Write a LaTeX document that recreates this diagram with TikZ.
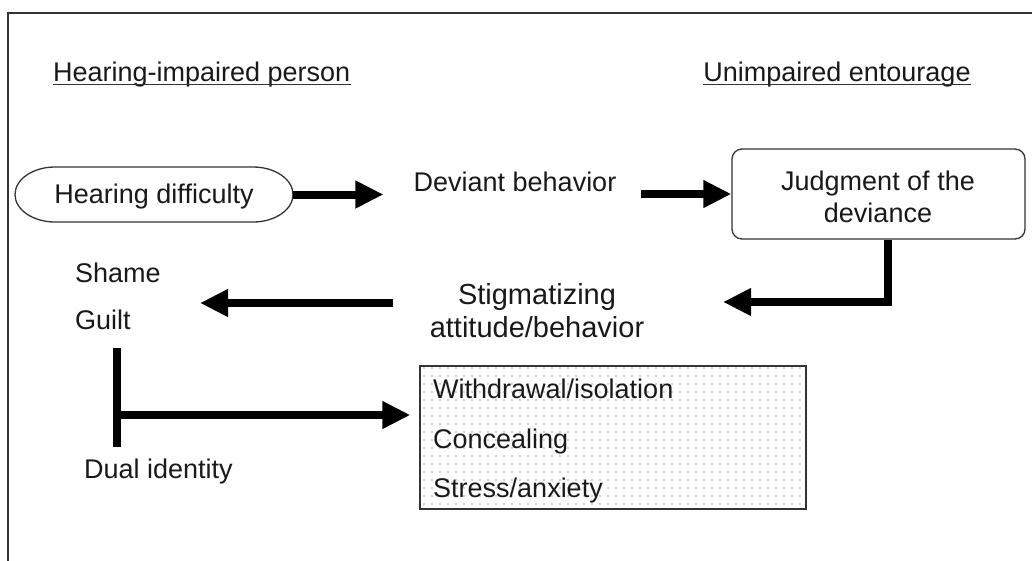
\documentclass[tikz,border=0pt]{standalone}
\usepackage{fontspec}
\setmainfont{Liberation Sans}
\usetikzlibrary{arrows.meta,shapes.geometric,patterns.meta,calc}
\begin{document}
\begin{tikzpicture}[x=1pt,y=-1pt,
  txt/.style={font=\fontsize{27}{32}\selectfont, inner sep=0pt, text=black!90},
  bigtxt/.style={font=\fontsize{29}{34}\selectfont, inner sep=0pt, text=black!90},
  bigarrow/.style={line width=8pt, -{Triangle[length=28pt,width=26pt]}},
  bar/.style={line width=8pt},
  ul/.style={line width=1.3pt, draw=black!80},
  frame/.style={line width=2pt, draw=black!80},
  boxline/.style={draw=black!80, line width=1.3pt}
]
\useasboundingbox (0,0) rectangle (1032,560);
% outer frame (cropped on right and bottom)
\draw[frame] (1045,13) -- (8,13) -- (8,575);

% headings
\node[txt, anchor=base west] (hip) at (53,81) {Hearing-impaired person};
\draw[ul] ($(hip.base west)+(0,3.5)$) -- ($(hip.base east)+(0,3.5)$);
\node[txt, anchor=base] (ue) at (837,81) {Unimpaired entourage};
\draw[ul] ($(ue.base west)+(0,3.5)$) -- ($(ue.base east)+(0,3.5)$);

% top row
\node[minimum width=278pt, minimum height=55pt, inner sep=0pt, outer sep=0pt] (hd) at (154,194.5) {};
\draw[boxline] (55,167) -- (253,167)
  arc[start angle=-90, end angle=90, x radius=40, y radius=27.5]
  -- (55,222)
  arc[start angle=90, end angle=270, x radius=40, y radius=27.5] -- cycle;
\node[txt, anchor=base] (hdt) at (154,203) {Hearing difficulty};
\node[txt, anchor=base] (dev) at (515,191) {Deviant behavior};
\node[boxline, rounded corners=10pt, minimum width=293pt, minimum height=90pt, inner sep=0pt] (jd) at (878.5,194) {};
\node[txt, anchor=base] (jd1) at (878,190) {Judgment of the};
\node[txt, anchor=base] (jd2) at (878,222) {deviance};

\draw[bigarrow, shorten >=30pt] (hd.east) -- (hd.east -| dev.west);
\draw[bigarrow, shorten <=24pt] (dev.east |- jd.west) -- (jd.west);

% middle row
\node[bigtxt, anchor=base] (stig1) at (537,304) {Stigmatizing};
\node[bigtxt, anchor=base] (stig2) at (537,337) {attitude/behavior};
\node[txt, anchor=base west] (shame) at (75,282) {Shame};
\node[txt, anchor=base west] (guilt) at (75,329) {Guilt};
\node[txt, anchor=base west] (dual) at (84,478) {Dual identity};

\coordinate (elb) at (723,302);
\draw[bigarrow] ([xshift=9.5pt]jd.south) |- (elb);
\coordinate (a3s) at (393,303);
\coordinate (a3e) at (200,303);
\draw[bigarrow] (a3s) -- (a3e);

% consequences box
\node[boxline, pattern={Dots[distance=8pt,radius=0.8pt]}, pattern color=black!35,
      minimum width=386pt, minimum height=143pt, inner sep=0pt] (eff) at (613,437.5) {};
\node[txt, anchor=base west] (w1) at (433,398) {Withdrawal/isolation};
\node[txt, anchor=base west] (w2) at (433,448) {Concealing};
\node[txt, anchor=base west] (w3) at (433,497) {Stress/anxiety};

% T connector
\coordinate (tb1) at (117,348);
\coordinate (tb2) at (117,447);
\coordinate (tbm) at (117,415);
\draw[bar] (tb1) -- (tb2);
\draw[bigarrow, shorten >=9pt] (tbm) -- (tbm -| eff.west);
\end{tikzpicture}
\end{document}
